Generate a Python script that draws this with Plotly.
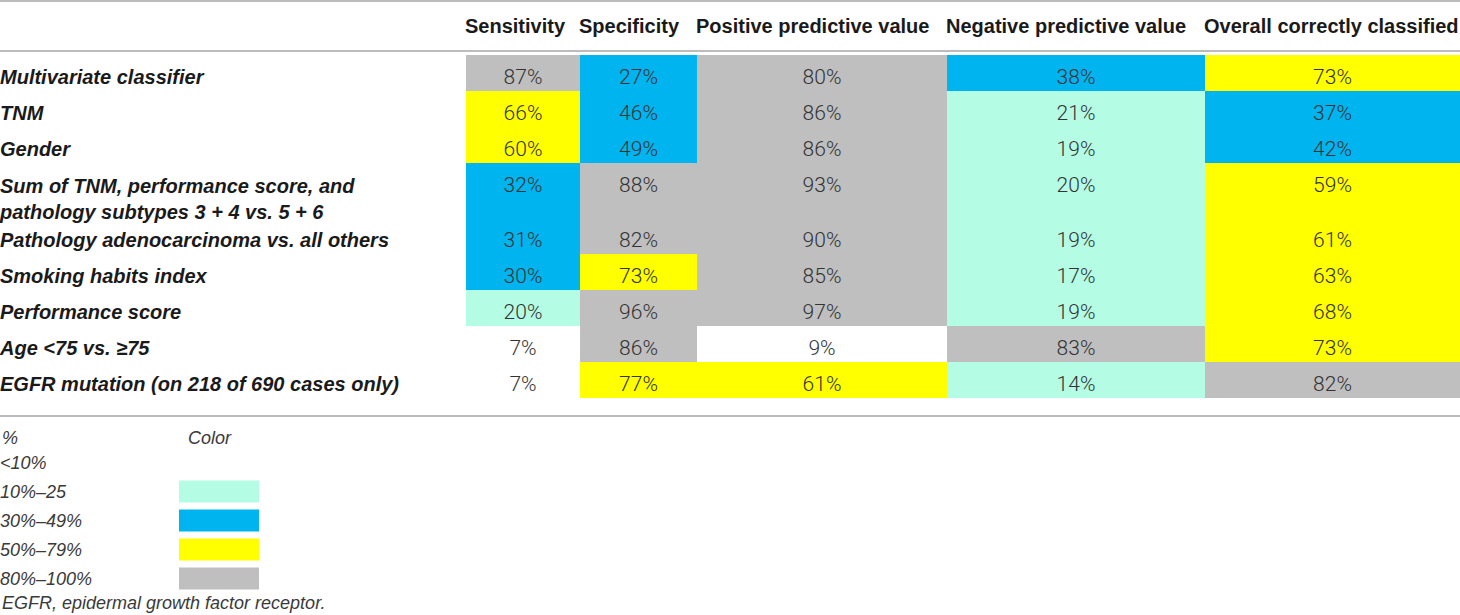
import numpy as np
import plotly.graph_objects as go

# --- table data ---
metrics = ["Sensitivity", "Specificity", "Positive predictive value",
           "Negative predictive value", "Overall correctly classified"]
predictors = [
    "Multivariate classifier",
    "TNM",
    "Gender",
    "Sum of TNM, performance score, and<br>pathology subtypes 3 + 4 vs. 5 + 6",
    "Pathology adenocarcinoma vs. all others",
    "Smoking habits index",
    "Performance score",
    "Age &lt;75 vs. ≥75",
    "EGFR mutation (on 218 of 690 cases only)",
]
sensitivity = [87, 66, 60, 32, 31, 30, 20, 7, 7]
specificity = [27, 46, 49, 88, 82, 73, 96, 86, 77]
ppv = [80, 86, 86, 93, 90, 85, 97, 9, 61]
npv = [38, 21, 19, 20, 19, 17, 19, 83, 14]
overall = [73, 37, 42, 59, 61, 63, 68, 73, 82]

# colour bands used for the cells and the key below the table
band_labels = ["&lt;10%", "10%–25", "30%–49%", "50%–79%", "80%–100%"]
band_lower = [0, 10, 26, 50, 80]
band_colors = ["#FFFFFF", "#B5FCE5", "#00B4EF", "#FFFF00", "#BFBFBF"]
footnote = "EGFR, epidermal growth factor receptor."

# --- layout geometry (pixels, the axes are 1:1 with the page) ---
W, H = 1460, 615
label_col = 466
col_widths = [114, 117, 250, 258, 255]
table_top = 55
row_heights = [36, 36, 36, 55, 36, 36, 36, 36, 36]
key_top, key_step = 448.5, 29

LABEL_FONT = dict(family="Liberation Sans, Arial", size=20, color="#1a1a1a",
                  weight="bold", style="italic")
HEAD_FONT = dict(family="Liberation Sans, Arial", size=20, color="#1a1a1a", weight="bold")
VALUE_FONT = dict(family="Roboto, Liberation Sans", size=21, color="#333333", weight=300)
KEY_FONT = dict(family="Liberation Sans, Arial", size=18, color="#3a3a3a", style="italic")

values = np.array([sensitivity, specificity, ppv, npv, overall]).T  # rows x cols
bands = np.digitize(values, band_lower[1:])

x_edges = label_col + np.concatenate([[0], np.cumsum(col_widths)])
y_edges = table_top + np.concatenate([[0], np.cumsum(row_heights)])
x_mid = (x_edges[:-1] + x_edges[1:]) / 2
row_text_y = y_edges[:-1] + 24

n = len(band_colors)
colorscale = []
for i, c in enumerate(band_colors):
    colorscale += [[i / n, c], [(i + 1) / n, c]]

fig = go.Figure()

# coloured cells
fig.add_trace(go.Heatmap(
    z=bands, x=x_edges, y=y_edges, zmin=-0.5, zmax=n - 0.5,
    colorscale=colorscale, showscale=False, hoverinfo="skip",
))

# cell values
xx, yy = np.meshgrid(x_mid, row_text_y)
fig.add_trace(go.Scatter(
    x=xx.ravel(), y=yy.ravel(), mode="text",
    text=[f"{v}%" for v in values.ravel()], cliponaxis=False,
    textfont=VALUE_FONT, textposition="middle center", hoverinfo="skip",
))

# row labels (two-line label centred between its lines)
label_y = [y + (p.count("<br>")) * 13.5 for y, p in zip(row_text_y, predictors)]
fig.add_trace(go.Scatter(
    x=[0] * len(predictors), y=label_y, mode="text", text=predictors,
    textfont=LABEL_FONT, textposition="middle right", hoverinfo="skip",
    cliponaxis=False,
))

# column headers, left aligned on each column
fig.add_trace(go.Scatter(
    x=x_edges[:-1] - 1, y=[28] * len(metrics), mode="text", text=metrics,
    textfont=HEAD_FONT, textposition="middle right", hoverinfo="skip",
    cliponaxis=False,
))

# colour key
key_edges = key_top + key_step * np.arange(n + 1)
fig.add_trace(go.Heatmap(
    z=[[i] for i in range(n)], x=[179, 259], y=key_edges, zmin=-0.5, zmax=n - 0.5,
    colorscale=colorscale, showscale=False, hoverinfo="skip", ygap=7,
))
fig.add_trace(go.Scatter(
    x=[0] * n, y=(key_edges[:-1] + key_edges[1:]) / 2 + 1, mode="text", text=band_labels,
    textfont=KEY_FONT, textposition="middle right", hoverinfo="skip",
    cliponaxis=False,
))

for txt, x, y in [("%", 0, 438), ("Color", 186, 438), (footnote, 0, 603)]:
    fig.add_annotation(x=x, y=y, text=txt, showarrow=False, xanchor="left",
                       yanchor="middle", font=KEY_FONT)

# rules
for y in [1, 51, 416]:
    fig.add_shape(type="line", xref="paper", x0=0, x1=1, y0=y, y1=y,
                  line=dict(color="#A6A6A6", width=1.5))

fig.update_xaxes(range=[0, W], visible=False, fixedrange=True)
fig.update_yaxes(range=[H, 0], visible=False, fixedrange=True)
fig.update_layout(
    width=W, height=H, margin=dict(l=0, r=0, t=0, b=0),
    plot_bgcolor="white", paper_bgcolor="white", showlegend=False,
)

# the page's default body margin would shift the figure by 8px
fig.write_html(
    "out.html",
    config={"displayModeBar": False},
    post_script="document.body.style.margin='0';document.body.style.overflow='hidden';",
)
